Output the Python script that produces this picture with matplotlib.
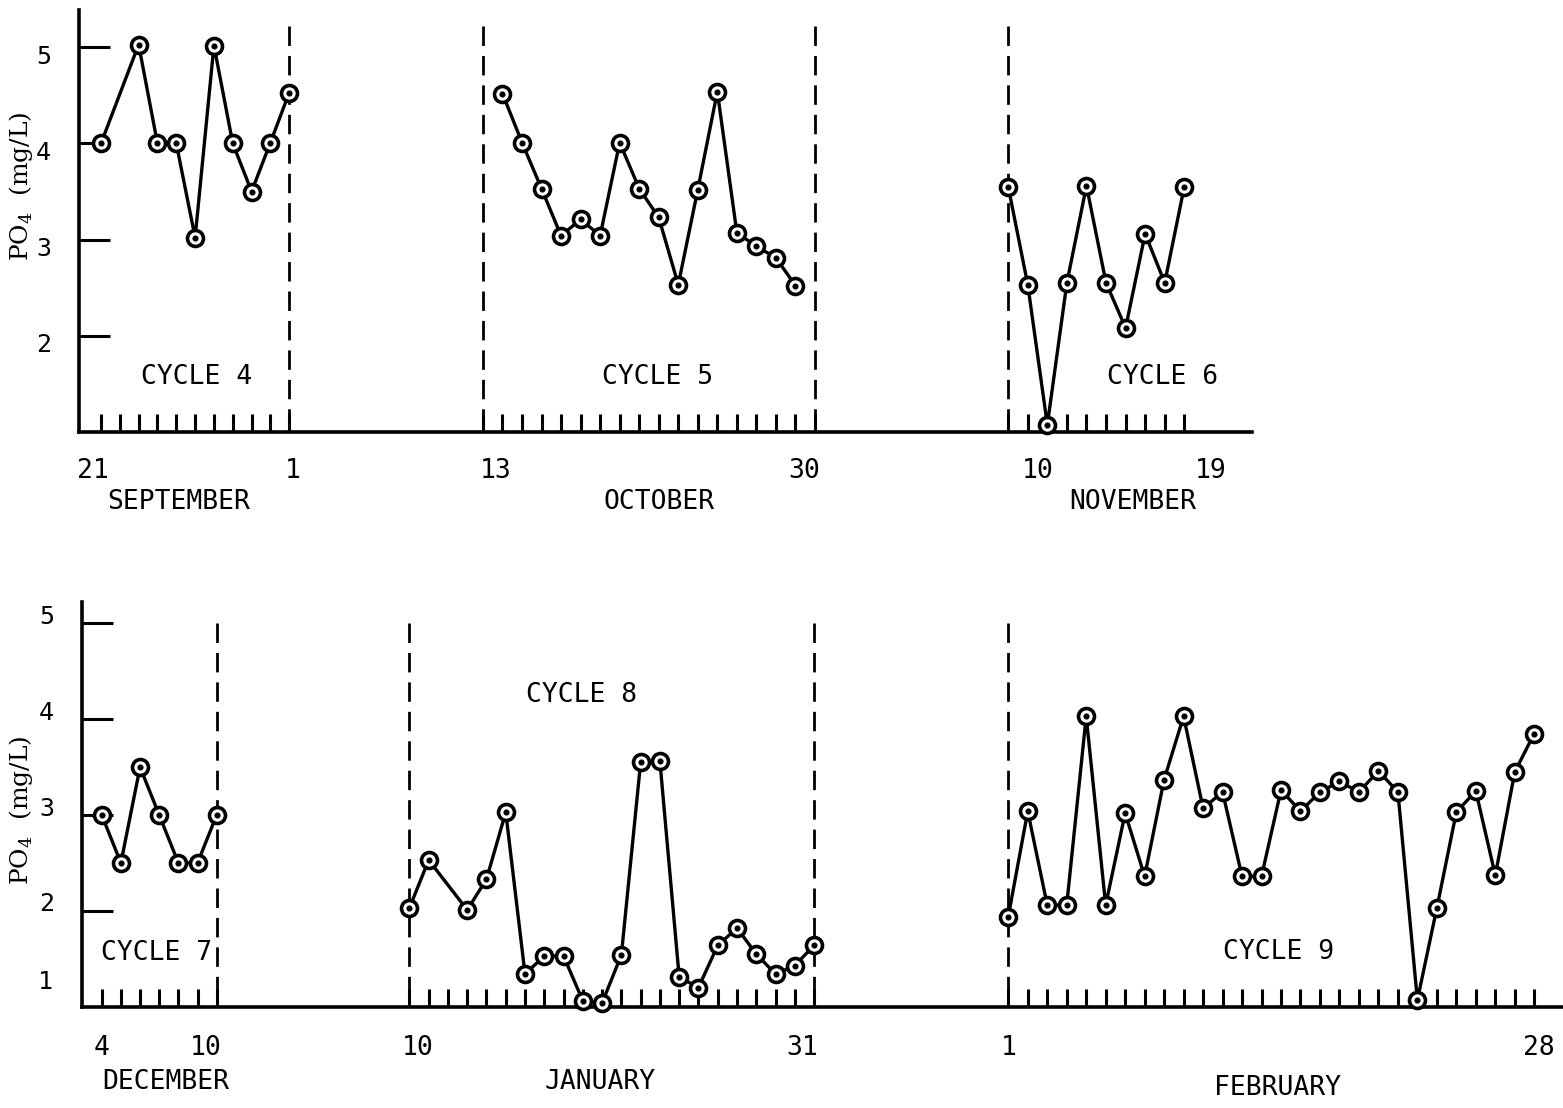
import numpy as np
import matplotlib.pyplot as plt
import matplotlib.transforms as mtransforms

plt.rcParams['font.family'] = 'DejaVu Sans Mono'

# PO4 (mg/L) per cycle. *_TICKS = number of day marks on the axis,
# *_DAY = which day mark (counted from the first) each reading sits on.
CYCLE4_TICKS = 11
CYCLE4_DAY = [0, 2, 3, 4, 5, 6, 7, 8, 9, 10]
CYCLE4_PO4 = [4.0, 5.03, 4.0, 4.0, 3.02, 5.02, 4.0, 3.5, 4.01, 4.53]

CYCLE5_TICKS = 18
CYCLE5_DAY = list(range(1, 17))
CYCLE5_PO4 = [4.52, 4.01, 3.53, 3.04, 3.21, 3.04, 4.01, 3.53, 3.23, 2.53,
              3.52, 4.54, 3.07, 2.93, 2.81, 2.52]

CYCLE6_TICKS = 10
CYCLE6_DAY = list(range(10))
CYCLE6_PO4 = [3.55, 2.53, 1.07, 2.55, 3.56, 2.55, 2.08, 3.06, 2.55, 3.55]

CYCLE7_TICKS = 7
CYCLE7_DAY = list(range(7))
CYCLE7_PO4 = [3.0, 2.5, 3.5, 3.0, 2.5, 2.5, 3.0]

CYCLE8_TICKS = 22
CYCLE8_DAY = [0, 1] + list(range(3, 22))
CYCLE8_PO4 = [2.03, 2.53, 2.01, 2.33, 3.03, 1.34, 1.53, 1.53, 1.06, 1.04,
              1.54, 3.55, 3.56, 1.31, 1.20, 1.64, 1.82, 1.55, 1.34, 1.43, 1.64]

CYCLE9_TICKS = 28
CYCLE9_DAY = list(range(28))
CYCLE9_PO4 = [1.94, 3.04, 2.06, 2.06, 4.03, 2.06, 3.02, 2.36, 3.37, 4.03,
              3.07, 3.24, 2.36, 2.36, 3.26, 3.04, 3.24, 3.35, 3.24, 3.46,
              3.24, 1.07, 2.03, 3.03, 3.25, 2.37, 3.45, 3.85]

Y_TICKS = [2, 3, 4, 5]

# where each cycle sits on its panel (axes fraction of first/last day mark),
# which marks get a dashed cycle boundary, and where its labels go
# (label x positions are given in day-mark units)
TOP_LAYOUT = [
    dict(ticks=CYCLE4_TICKS, days=CYCLE4_DAY, po4=CYCLE4_PO4,
         span=(0.0188, 0.1793), bounds=[10],
         title=("CYCLE 4", 5.1, 1.57),
         dates=[("21", -0.45), ("1", 10.17)],
         month=("SEPTEMBER", 4.14, -0.166)),
    dict(ticks=CYCLE5_TICKS, days=CYCLE5_DAY, po4=CYCLE5_PO4,
         span=(0.3444, 0.6275), bounds=[0, 17],
         title=("CYCLE 5", 8.96, 1.57),
         dates=[("13", 0.67), ("30", 16.44)],
         month=("OCTOBER", 9.01, -0.166)),
    dict(ticks=CYCLE6_TICKS, days=CYCLE6_DAY, po4=CYCLE6_PO4,
         span=(0.7922, 0.9423), bounds=[0],
         title=("CYCLE 6", 7.88, 1.57),
         dates=[("10", 1.49), ("19", 10.36)],
         month=("NOVEMBER", 6.35, -0.166)),
]

BOTTOM_LAYOUT = [
    dict(ticks=CYCLE7_TICKS, days=CYCLE7_DAY, po4=CYCLE7_PO4,
         span=(0.0135, 0.0911), bounds=[6],
         title=("CYCLE 7", 2.88, 1.56),
         dates=[("4", 0.0), ("10", 5.44)],
         month=("DECEMBER", 3.35, -0.185)),
    dict(ticks=CYCLE8_TICKS, days=CYCLE8_DAY, po4=CYCLE8_PO4,
         span=(0.2212, 0.4944), bounds=[0, 21],
         title=("CYCLE 8", 8.91, 4.25),
         dates=[("10", 0.45), ("31", 20.38)],
         month=("JANUARY", 9.9, -0.185)),
    dict(ticks=CYCLE9_TICKS, days=CYCLE9_DAY, po4=CYCLE9_PO4,
         span=(0.6255, 0.9806), bounds=[0],
         title=("CYCLE 9", 13.9, 1.57),
         dates=[("1", 0.0), ("28", 27.24)],
         month=("FEBRUARY", 13.84, -0.2)),
]

TEXT_SIZE = 19
LINE_W = 2.4


def day_x(cyc, d):
    x0, x1 = cyc['span']
    return x0 + (x1 - x0) * np.asarray(d, dtype=float) / (cyc['ticks'] - 1)


def setup_panel(ax, ylim, label_shift_px):
    ax.set_xlim(0, 1)
    ax.set_ylim(*ylim)
    for side in ('top', 'right'):
        ax.spines[side].set_visible(False)
    for side in ('left', 'bottom'):
        ax.spines[side].set_linewidth(2.6)
        ax.spines[side].set_color('black')
    ax.set_yticks(Y_TICKS)
    ax.set_yticklabels([str(v) for v in Y_TICKS])
    ax.tick_params(axis='y', direction='in', length=22, width=2.2,
                   pad=20, labelsize=18, color='black')
    ax.tick_params(axis='x', direction='in', length=13, width=2.2,
                   labelbottom=False, color='black')
    # the hand-lettered numbers do not sit exactly level with their ticks
    shift = mtransforms.ScaledTranslation(0, label_shift_px / 100,
                                          ax.figure.dpi_scale_trans)
    for lab in ax.get_yticklabels():
        lab.set_transform(lab.get_transform() + shift)


def draw_cycles(ax, layout, date_y, dash_top):
    below = mtransforms.blended_transform_factory(ax.transData, ax.transAxes)
    xticks = []
    for cyc in layout:
        xticks.extend(day_x(cyc, np.arange(cyc['ticks'])))

        # boundary lines drawn top-down so each starts with a full dash
        for b in cyc['bounds']:
            xb = day_x(cyc, b)
            ax.plot([xb, xb], [dash_top, ax.get_ylim()[0]], color='black',
                    lw=2.0, ls=(0, (7, 3.6)), zorder=2)

        x = day_x(cyc, cyc['days'])
        ax.plot(x, cyc['po4'], color='black', lw=LINE_W, marker='o',
                ms=11.5, mfc='white', mec='black', mew=2.6,
                solid_joinstyle='round', zorder=5, clip_on=False)
        ax.plot(x, cyc['po4'], ls='none', marker='o', ms=3.4,
                color='black', zorder=6, clip_on=False)

        name, tx, ty = cyc['title']
        ax.text(day_x(cyc, tx), ty, name, ha='center', va='center',
                fontsize=TEXT_SIZE)
        for lab, pos in cyc['dates']:
            ax.text(day_x(cyc, pos), date_y, lab, transform=below,
                    ha='center', va='center', fontsize=TEXT_SIZE)
        month, mx, my = cyc['month']
        ax.text(day_x(cyc, mx), my, month, transform=below,
                ha='center', va='center', fontsize=TEXT_SIZE)
    ax.set_xticks(xticks)


def po4_label(ax, x, y):
    ax.text(x, y, r"PO$_\mathregular{4}$  (mg/L)", transform=ax.transAxes,
            rotation=90, ha='center', va='center', fontsize=18,
            family='DejaVu Serif')


fig = plt.figure(figsize=(15.63, 11.08), dpi=100)
fig.patch.set_facecolor('white')

ax_top = fig.add_axes([0.0505, 0.6104, 0.7505, 0.3806])
setup_panel(ax_top, (1.0, 5.39), -7)
draw_cycles(ax_top, TOP_LAYOUT, -0.0925, 5.22)
po4_label(ax_top, -0.0494, 0.581)

ax_bot = fig.add_axes([0.0523, 0.0914, 0.9477, 0.3655])
setup_panel(ax_bot, (1.0, 5.225), 9)
draw_cycles(ax_bot, BOTTOM_LAYOUT, -0.102, 5.0)
po4_label(ax_bot, -0.041, 0.486)
# the lowest value sits on the baseline, so its label is lifted a little
ax_bot.text(-0.0195, 1.26, "1", transform=mtransforms.blended_transform_factory(
    ax_bot.transAxes, ax_bot.transData), ha='right', va='center', fontsize=18)

fig.savefig('out.png', dpi=100, facecolor='white')
